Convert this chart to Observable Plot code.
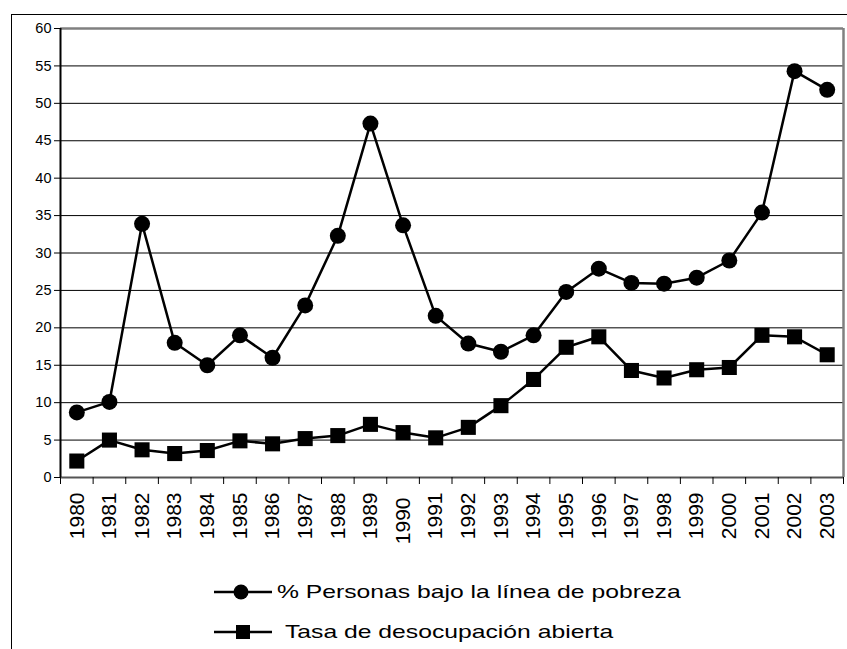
<!DOCTYPE html>
<html>
<head>
<meta charset="utf-8">
<script src="https://cdn.jsdelivr.net/npm/d3@7"></script>
<script src="https://cdn.jsdelivr.net/npm/@observablehq/plot@0.6"></script>
<style>
  html, body { margin: 0; padding: 0; background: #fff; }
  body { width: 847px; height: 649px; position: relative; overflow: hidden; font-family: Arial, "Liberation Sans", sans-serif; }
  #frame { position: absolute; left: 11px; top: 14px; width: 840px; height: 640px; border-top: 1.5px solid #000; border-left: 1.5px solid #000; }
  #chart { position: absolute; left: 12px; top: 15px; }
  .leg { position: absolute; height: 24px; display: flex; align-items: center; }
  .leg svg { display: block; }
  .leg span { display: inline-block; font-size: 19px; color: #000; transform: scaleX(1.3); transform-origin: left center; white-space: nowrap; }
</style>
</head>
<body>
<div id="frame"></div>
<div id="chart"></div>
<div class="leg" style="left:214px; top:580px;">
  <svg width="60" height="24"><line x1="0" y1="12" x2="58" y2="12" stroke="#000" stroke-width="2.5"/><circle cx="27" cy="12" r="7.5" fill="#000"/></svg>
  <span id="leg1" style="margin-left:3px"></span>
</div>
<div class="leg" style="left:214px; top:620px;">
  <svg width="60" height="24"><line x1="0" y1="12" x2="58" y2="12" stroke="#000" stroke-width="2.5"/><rect x="22" y="5" width="14" height="14" fill="#000"/></svg>
  <span id="leg2" style="margin-left:11px"></span>
</div>
<script>
const years = [1980,1981,1982,1983,1984,1985,1986,1987,1988,1989,1990,1991,1992,1993,1994,1995,1996,1997,1998,1999,2000,2001,2002,2003];
const pobreza = [8.7,10.1,33.9,18.0,15.0,19.0,16.0,23.0,32.3,47.3,33.7,21.6,17.9,16.8,19.0,24.8,27.9,26.0,25.9,26.7,29.0,35.4,54.3,51.8];
const desocupacion = [2.2,5.0,3.7,3.2,3.6,4.9,4.5,5.2,5.6,7.1,6.0,5.3,6.7,9.6,13.1,17.4,18.8,14.3,13.3,14.4,14.7,19.0,18.8,16.4];
const yTicks = [0,5,10,15,20,25,30,35,40,45,50,55,60];
const seriesNames = ["% Personas bajo la línea de pobreza", "Tasa de desocupación abierta"];

document.getElementById("leg1").textContent = seriesNames[0];
document.getElementById("leg2").textContent = seriesNames[1];

const dataP = years.map((y, i) => ({year: y, value: pobreza[i]}));
const dataD = years.map((y, i) => ({year: y, value: desocupacion[i]}));
const xMin = years[0] - 0.5, xMax = years[years.length - 1] + 0.5;
const boundaries = [xMin, ...years.map(y => y + 0.5)];
const yMax = yTicks[yTicks.length - 1];

const chart = Plot.plot({
  width: 835,
  height: 542,
  marginLeft: 48,
  marginTop: 13,
  marginRight: 4,
  marginBottom: 80,
  style: {fontFamily: "Arial, 'Liberation Sans', sans-serif", background: "#fff", color: "#000"},
  x: {type: "linear", domain: [xMin, xMax], label: null},
  y: {domain: [0, yMax], label: null},
  marks: [
    Plot.gridY(yTicks.filter(t => t > 0 && t < yMax), {stroke: "#000", strokeOpacity: 1, strokeWidth: 1}),
    Plot.ruleY([yMax], {stroke: "#808080", strokeWidth: 2.5}),
    Plot.ruleX([xMax], {stroke: "#808080", strokeWidth: 2.5}),
    Plot.ruleY([0], {stroke: "#555", strokeWidth: 2}),
    Plot.ruleX([xMin], {stroke: "#000", strokeWidth: 2}),
    Plot.axisY(yTicks, {tickSize: 6, tickPadding: 3, fontSize: 14.5, stroke: "#000", label: null}),
    Plot.axisX(boundaries, {tickSize: 7, tickFormat: () => "", stroke: "#000", label: null}),
    Plot.axisX(years.filter(y => y !== 1990), {tickSize: 0, tickPadding: 15, tickRotate: -90, fontSize: 21, tickFormat: d => String(d), label: null}),
    Plot.axisX([1990], {tickSize: 0, tickPadding: 20, tickRotate: -90, fontSize: 21, tickFormat: d => String(d), label: null}),
    Plot.line(dataP, {x: "year", y: "value", stroke: "#000", strokeWidth: 2.5}),
    Plot.dot(dataP, {x: "year", y: "value", r: 8, fill: "#000", symbol: "circle"}),
    Plot.line(dataD, {x: "year", y: "value", stroke: "#000", strokeWidth: 2.5}),
    Plot.dot(dataD, {x: "year", y: "value", r: 8.5, fill: "#000", symbol: "square"})
  ]
});
document.getElementById("chart").appendChild(chart);
</script>
</body>
</html>
